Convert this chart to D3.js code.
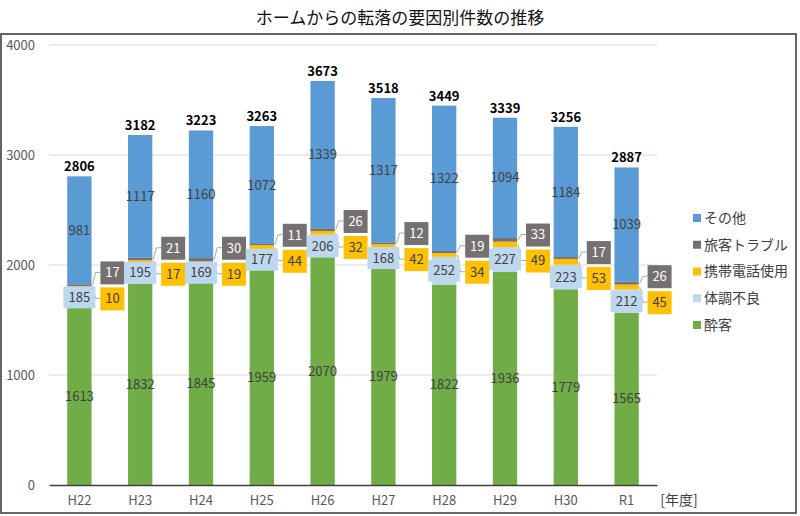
<!DOCTYPE html>
<html><head><meta charset="utf-8">
<script src="https://cdn.jsdelivr.net/npm/d3@7"></script>
<style>
body{margin:0;background:#fff;}
svg{display:block;font-family:"Noto Sans CJK JP","Noto Sans",sans-serif;}
</style></head>
<body><svg id="c" width="800" height="516"></svg>
<script>
const title = "ホームからの転落の要因別件数の推移";
const years = ["H22","H23","H24","H25","H26","H27","H28","H29","H30","R1"];
const drunk   = [1613,1832,1845,1959,2070,1979,1822,1936,1779,1565];
const illness = [185,195,169,177,206,168,252,227,223,212];
const phone   = [10,17,19,44,32,42,34,49,53,45];
const trouble = [17,21,30,11,26,12,19,33,17,26];
const other   = [981,1117,1160,1072,1339,1317,1322,1094,1184,1039];
const yTicks  = [0,1000,2000,3000,4000];
const seriesNames = ["酔客","体調不良","携帯電話使用","旅客トラブル","その他"];
const legendOrder = ["その他","旅客トラブル","携帯電話使用","体調不良","酔客"];
const colors = {"酔客":"#70AD47","体調不良":"#BDD7EE","携帯電話使用":"#FFC000","旅客トラブル":"#767171","その他":"#5B9BD5"};
const xUnit = "[年度]";

const rows = years.map((y,i)=>({year:y,"酔客":drunk[i],"体調不良":illness[i],"携帯電話使用":phone[i],"旅客トラブル":trouble[i],"その他":other[i]}));
const stack = d3.stack().keys(seriesNames)(rows);

const svg = d3.select("#c");
svg.append("rect").attr("x",1).attr("y",34).attr("width",795).attr("height",479)
  .attr("fill","#fff").attr("stroke","#404040").attr("stroke-width",1.6);

svg.append("text").attr("x",400).attr("y",24).attr("text-anchor","middle")
  .attr("font-size",17).attr("fill","#111").text(title);

const x = d3.scaleBand().domain(years).range([49,657]).paddingInner(0.6).paddingOuter(0.3);
const y = d3.scaleLinear().domain([0,4000]).range([485,45]);

// gridlines
svg.append("g").selectAll("line").data(yTicks.filter(t=>t>0)).join("line")
  .attr("x1",49).attr("x2",657).attr("y1",d=>y(d)).attr("y2",d=>y(d))
  .attr("stroke","#D9D9D9").attr("stroke-width",1);

// y axis labels
const yAxis = d3.axisLeft(y).tickValues(yTicks).tickFormat(d3.format("d")).tickSize(0).tickPadding(0);
const ga = svg.append("g").attr("transform","translate(35,0)").call(yAxis);
ga.select(".domain").remove();
ga.selectAll("text").attr("font-size",13).attr("fill","#595959").attr("font-family","'Noto Sans CJK JP',sans-serif");

// bars
svg.append("g").selectAll("g").data(stack).join("g")
  .attr("fill",d=>colors[d.key])
  .selectAll("rect").data(d=>d).join("rect")
  .attr("x",d=>x(d.data.year)).attr("width",x.bandwidth())
  .attr("y",d=>y(d[1])).attr("height",d=>y(d[0])-y(d[1]));

// x axis
const xAxis = d3.axisBottom(x).tickSize(0).tickPadding(11);
const gx = svg.append("g").attr("transform","translate(0,485)").call(xAxis);
gx.select(".domain").attr("stroke","#404040").attr("stroke-width",1.4);
gx.selectAll("text").attr("font-size",13).attr("fill","#595959").attr("font-family","'Noto Sans CJK JP',sans-serif");
svg.append("text").attr("x",679).attr("y",505).attr("text-anchor","middle")
  .attr("font-size",14).attr("fill","#404040").text(xUnit);

const S = {}; stack.forEach(s=>S[s.key]=s);
const lab = svg.append("g").attr("font-size",13).attr("text-anchor","middle");

rows.forEach((r,i)=>{
  const cx = x(r.year)+x.bandwidth()/2;
  const bxR = x(r.year)+x.bandwidth();
  ["酔客","その他"].forEach(k=>{
    const d = S[k][i];
    lab.append("text").attr("x",cx).attr("y",(y(d[0])+y(d[1]))/2).attr("dy","0.35em")
      .attr("fill","#404040").text(r[k]);
  });
  const tot = S["その他"][i][1];
  lab.append("text").attr("x",cx).attr("y",y(tot)-5).attr("font-weight","bold")
    .attr("fill","#000").text(tot);
  const di = S["体調不良"][i];
  const ly = (y(di[0])+y(di[1]))/2;
  const wI = 32, h = 22;
  lab.append("rect").attr("x",cx-wI/2).attr("y",ly-h/2).attr("width",wI).attr("height",h).attr("fill","#BDD7EE");
  lab.append("text").attr("x",cx).attr("y",ly).attr("dy","0.36em").attr("fill","#404040").text(r["体調不良"]);
  const lx = cx + 33;
  const boxes = [
    {k:"携帯電話使用", yy: ly+1, fill:"#FFC000", tc:"#404040"},
    {k:"旅客トラブル", yy: ly-25, fill:"#767171", tc:"#fff"}
  ];
  boxes.forEach(b=>{
    const d = S[b.k][i];
    const sy = (y(d[0])+y(d[1]))/2;
    const w = 24;
    svg.append("path").attr("d",`M${lx-w/2},${b.yy}H${bxR+4}L${bxR+1},${sy}`)
      .attr("fill","none").attr("stroke","#A6A6A6").attr("stroke-width",1);
    lab.append("rect").attr("x",lx-w/2).attr("y",b.yy-h/2).attr("width",w).attr("height",h+1).attr("fill",b.fill);
    lab.append("text").attr("x",lx).attr("y",b.yy).attr("dy","0.38em").attr("fill",b.tc).text(r[b.k]);
  });
});
lab.raise();

const lg = svg.append("g").attr("transform","translate(693,218)");
legendOrder.forEach((k,i)=>{
  const g = lg.append("g").attr("transform",`translate(0,${i*26.75})`);
  g.append("rect").attr("x",0).attr("y",-4).attr("width",8).attr("height",8).attr("fill",colors[k]);
  g.append("text").attr("x",11).attr("y",0).attr("dy","0.35em").attr("font-size",14).attr("fill","#404040").text(k);
});
</script></body></html>
